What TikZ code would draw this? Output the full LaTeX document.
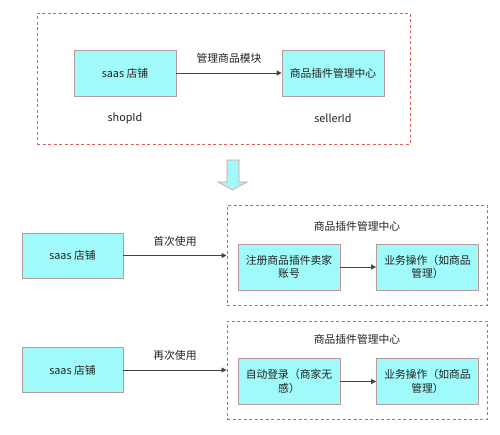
\documentclass[tikz,border=0pt]{standalone}
\usepackage{fontspec}
\setmainfont{Noto Sans CJK SC}
\usepackage{tikz}
\usetikzlibrary{arrows.meta,positioning}
\definecolor{boxfill}{HTML}{A0FAFA}
\definecolor{boxline}{HTML}{B89A9A}
\definecolor{frameline}{HTML}{E05A5A}
\definecolor{arrowline}{HTML}{E89090}
\definecolor{ink}{HTML}{222222}

\begin{document}
\begin{tikzpicture}[x=1pt, y=-1pt,
  every node/.style={font=\fontsize{10.8}{13.5}\selectfont, text=ink},
  block/.style={rectangle, draw=boxline, fill=boxfill, line width=0.8pt, minimum width=102pt, minimum height=46pt, align=center, inner sep=2pt},
  dashframe/.style={rectangle, draw=frameline, dash pattern=on 3pt off 2.5pt, line width=1pt},
  arrow/.style={-{Triangle[length=5pt, width=5pt]}, line width=0.9pt, draw=ink!85},
  label/.style={inner sep=1pt}
]
\useasboundingbox (0,0) rectangle (500,434);

% frames
\node[dashframe, minimum width=373pt, minimum height=131pt] (top)    at (223.5,78.5) {};
\node[dashframe, minimum width=260pt, minimum height=100pt] (first)  at (357,255) {};
\node[dashframe, minimum width=260pt, minimum height=98pt]  (second) at (357,370) {};

% top: shop and plugin
\node[block] (shop)   at (125,73) {saas 店铺};
\node[block] (plugin) at (333,73) {商品插件管理中心};
\draw[arrow] (shop) -- node[label, above=8pt]{管理商品模块} (plugin);
\node[label] (shopid)   at (125,118) {shopId};
\node[label] (sellerid) at (333,118) {sellerId};

% down arrow
\draw[draw=arrowline, fill=boxfill, line width=0.6pt]
  (227,160) -- (239,160) -- (239,182) -- (247,182) -- (232.5,190)
  -- (218,182) -- (227,182) -- cycle;

% first use
\node[label] (firsttitle) at (357,226) {商品插件管理中心};
\node[block, minimum width=101pt, minimum height=45pt] (shopa) at (72.5,255.5) {saas 店铺};
\node[block] (register) at (289,267) {注册商品插件卖家\\账号};
\node[block] (opa)      at (427.5,267) {业务操作（如商品\\管理）};
\draw[arrow] (shopa) -- node[label, above=8pt]{首次使用} (first.west |- shopa);
\draw[arrow] (register) -- (opa);

% second use
\node[label] (secondtitle) at (357,339) {商品插件管理中心};
\node[block, minimum width=101pt, minimum height=45pt] (shopb) at (72.5,370) {saas 店铺};
\node[block] (login) at (289,381.5) {自动登录（商家无\\感）};
\node[block] (opb)   at (427.5,381.5) {业务操作（如商品\\管理）};
\draw[arrow] (shopb) -- node[label, above=8pt]{再次使用} (second.west |- shopb);
\draw[arrow] (login) -- (opb);
\end{tikzpicture}
\end{document}
